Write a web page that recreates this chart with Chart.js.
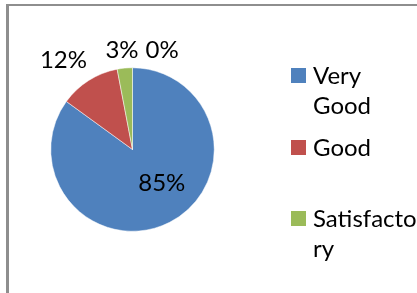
<!DOCTYPE html>
<html>
<head>
<meta charset="utf-8">
<script src="https://cdn.jsdelivr.net/npm/chart.js@4"></script>
<style>
  body { margin: 0; background: #fff; }
  #wrap { position: relative; width: 417px; height: 293px; overflow: hidden; }
  #frame { position: absolute; left: 6px; top: 4px; width: 500px; height: 400px;
           border-left: 3px solid #8e8e8e; border-top: 2px solid #8e8e8e; }
  #myChart { position: absolute; left: 0; top: 0; }
  #legend { position: absolute; left: 291px; top: 60px; font-family: Lato, sans-serif;
            font-size: 24px; line-height: 30px; color: #000; }
  .item { position: relative; height: 71.5px; padding-left: 22px; width: 104px; }
  .box { position: absolute; left: 0; top: 8px; width: 15px; height: 15px; }
</style>
</head>
<body>
<div id="wrap">
  <div id="frame"></div>
  <canvas id="myChart" width="417" height="293"></canvas>
  <div id="legend"></div>
</div>
<script>
var categories = ['Very Good', 'Good', 'Satisfactory', 'Poor'];
var percents = [85, 12, 3, 0];
var legendLines = [['Very', 'Good'], ['Good'], ['Satisfacto', 'ry']];
var colors = ['#4F81BD', '#C0504D', '#9BBB59', '#8064A2'];

// label placement: radius factor and angle nudge (deg) per slice
var labelPos = [
    { f: 0.535, da: -15 },
    { f: 1.39, da: -5 },
    { f: 1.23, da: -0.6 },
    { f: 1.28, da: 16.4 }
];

var pieLabels = {
    id: 'pieLabels',
    afterDatasetsDraw: function(chart) {
        var ctx = chart.ctx;
        var meta = chart.getDatasetMeta(0);
        ctx.save();
        ctx.font = '24px Lato, sans-serif';
        ctx.fillStyle = '#000';
        ctx.textAlign = 'center';
        ctx.textBaseline = 'middle';
        meta.data.forEach(function(arc, i) {
            var p = arc.getProps(['x', 'y', 'startAngle', 'endAngle', 'outerRadius'], true);
            var a = (p.startAngle + p.endAngle) / 2 + labelPos[i].da * Math.PI / 180;
            var r = p.outerRadius * labelPos[i].f;
            ctx.fillText(percents[i] + '%', p.x + Math.cos(a) * r, p.y + Math.sin(a) * r + 1);
        });
        ctx.restore();
    }
};

var ctx = document.getElementById('myChart').getContext('2d');
var myChart = new Chart(ctx, {
    type: 'pie',
    data: {
        labels: categories,
        datasets: [{
            data: percents,
            backgroundColor: colors,
            borderColor: '#ffffff',
            borderWidth: 0.5
        }]
    },
    options: {
        responsive: false,
        animation: false,
        layout: { padding: { left: 50.5, top: 67.5, right: 202.5, bottom: 61.5 } },
        plugins: {
            legend: { display: false },
            tooltip: { enabled: false }
        }
    },
    plugins: [pieLabels]
});

// legend (first three entries, as in the original)
var legend = document.getElementById('legend');
for (var i = 0; i < legendLines.length; i++) {
    var item = document.createElement('div');
    item.className = 'item';
    var box = document.createElement('div');
    box.className = 'box';
    box.style.background = colors[i];
    item.appendChild(box);
    legendLines[i].forEach(function(line) {
        var d = document.createElement('div');
        d.textContent = line;
        item.appendChild(d);
    });
    legend.appendChild(item);
}
</script>
</body>
</html>
